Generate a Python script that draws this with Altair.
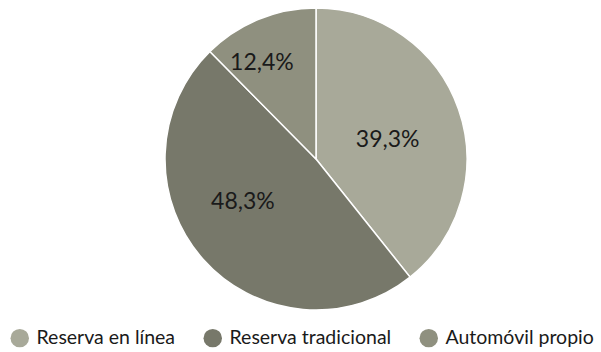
import altair as alt
import pandas as pd

categories = ["Reserva en línea", "Reserva tradicional", "Automóvil propio"]
values = [39.3, 48.3, 12.4]
labels = ["39,3%", "48,3%", "12,4%"]
colors = ["#a8a999", "#77786a", "#8f907f"]

df = pd.DataFrame({"cat": categories, "val": values, "lab": labels, "ord": [0, 1, 2]})
total = sum(values)

arcs = alt.Chart(df).mark_arc(outerRadius=151, stroke="white", strokeWidth=1.5).encode(
    theta=alt.Theta("val:Q", stack=True, scale=alt.Scale(domain=[0, total])),
    order=alt.Order("ord:Q"),
    x=alt.value(316),
    y=alt.value(159),
    color=alt.Color(
        "cat:N",
        sort=categories,
        scale=alt.Scale(domain=categories, range=colors),
        legend=alt.Legend(
            title=None,
            orient="none",
            legendX=10,
            legendY=328,
            direction="horizontal",
            symbolType="circle",
            symbolSize=340,
            symbolStrokeWidth=0,
            labelFont="Lato",
            labelFontSize=19.5,
            labelLimit=300,
            labelColor="#1a1a1a",
            columnPadding=27,
            symbolOffset=0,
            labelOffset=7,
        ),
    ),
)

text_base = (
    alt.Chart(df)
    .transform_window(cum="sum(val)", sort=[alt.SortField("ord")])
    .transform_calculate(mid="datum.cum - datum.val / 2")
    .encode(
        theta=alt.Theta("mid:Q", stack=None, scale=alt.Scale(domain=[0, total])),
        x=alt.value(316),
        y=alt.value(159),
        text="lab:N",
    )
)

offsets = {"39,3%": (-18, 12), "48,3%": (-2, -20), "12,4%": (-18, -8)}
texts = []
for lab in labels:
    ddx, ddy = offsets[lab]
    texts.append(
        text_base.mark_text(radius=95, font="Lato", fontSize=23,
                            color="#1a1a1a", dx=ddx, dy=ddy)
        .transform_filter(alt.datum.lab == lab)
    )

chart = alt.layer(arcs, *texts).properties(
    width=601, height=352, autosize=alt.AutoSizeParams(type="none"), padding=0
).configure_view(stroke=None)

chart.save("out.html", embed_options={"renderer": "svg", "actions": False})
